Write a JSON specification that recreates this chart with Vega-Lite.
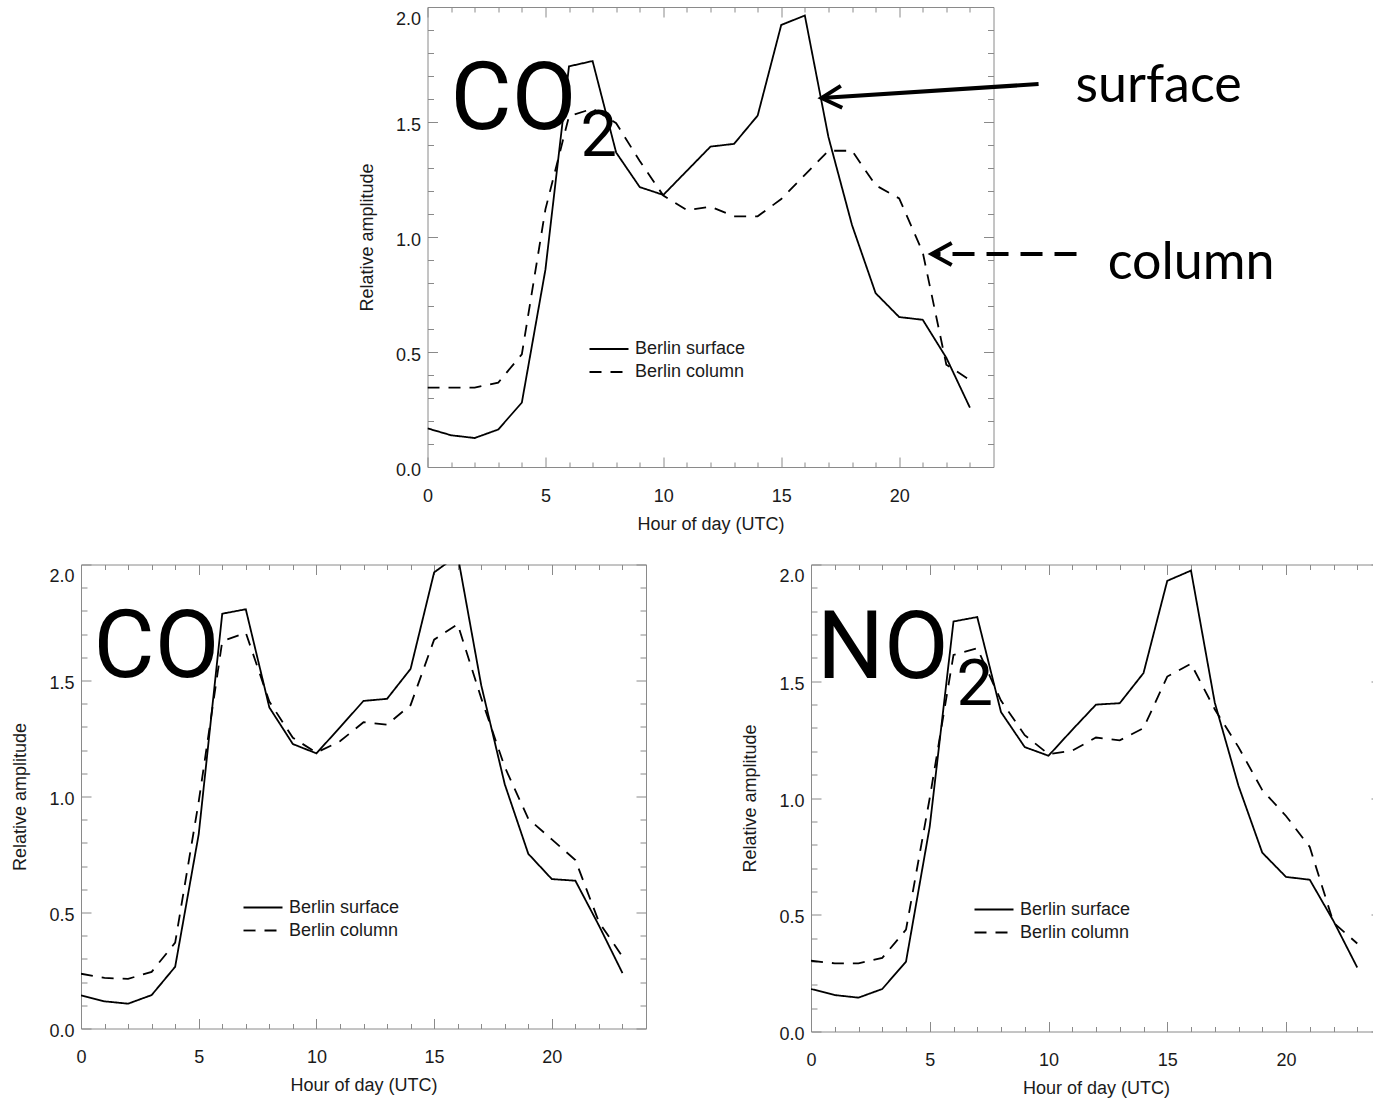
{
  "$schema": "https://vega.github.io/schema/vega-lite/v6.json",
  "background": "white",
  "padding": {"left": 11, "top": 6, "right": 0, "bottom": 0},
  "config": {
    "view": {"stroke": "#8a8a8a", "strokeWidth": 1},
    "axis": {"domain": false, "ticks": false, "grid": true, "gridColor": "#8a8a8a", "gridOpacity": 1, "gridWidth": 1,
      "labelFont": "Liberation Sans", "labelFontSize": 18, "labelColor": "#1a1a1a", "labelOverlap": false, "labelFlush": false,
      "titleFont": "Liberation Sans", "titleFontSize": 18, "titleFontWeight": "normal", "titleColor": "#1a1a1a"},
    "legend": {"labelFont": "Liberation Sans", "labelFontSize": 18, "labelColor": "#1a1a1a"}
  },
  "datasets": {
    "lines": [
      {"gas":"CO2","series":"Berlin surface","hour":0,"value":0.168},{"gas":"CO2","series":"Berlin surface","hour":1,"value":0.138},{"gas":"CO2","series":"Berlin surface","hour":2,"value":0.126},{"gas":"CO2","series":"Berlin surface","hour":3,"value":0.163},{"gas":"CO2","series":"Berlin surface","hour":4,"value":0.28},{"gas":"CO2","series":"Berlin surface","hour":5,"value":0.858},{"gas":"CO2","series":"Berlin surface","hour":6,"value":1.742},{"gas":"CO2","series":"Berlin surface","hour":7,"value":1.765},{"gas":"CO2","series":"Berlin surface","hour":8,"value":1.367},{"gas":"CO2","series":"Berlin surface","hour":9,"value":1.217},{"gas":"CO2","series":"Berlin surface","hour":10,"value":1.183},{"gas":"CO2","series":"Berlin surface","hour":11,"value":1.288},{"gas":"CO2","series":"Berlin surface","hour":12,"value":1.393},{"gas":"CO2","series":"Berlin surface","hour":13,"value":1.405},{"gas":"CO2","series":"Berlin surface","hour":14,"value":1.528},{"gas":"CO2","series":"Berlin surface","hour":15,"value":1.922},{"gas":"CO2","series":"Berlin surface","hour":16,"value":1.963},{"gas":"CO2","series":"Berlin surface","hour":17,"value":1.435},{"gas":"CO2","series":"Berlin surface","hour":18,"value":1.052},{"gas":"CO2","series":"Berlin surface","hour":19,"value":0.756},{"gas":"CO2","series":"Berlin surface","hour":20,"value":0.652},{"gas":"CO2","series":"Berlin surface","hour":21,"value":0.64},{"gas":"CO2","series":"Berlin surface","hour":22,"value":0.475},{"gas":"CO2","series":"Berlin surface","hour":23,"value":0.258},
      {"gas":"CO2","series":"Berlin column","hour":0,"value":0.345},{"gas":"CO2","series":"Berlin column","hour":1,"value":0.345},{"gas":"CO2","series":"Berlin column","hour":2,"value":0.345},{"gas":"CO2","series":"Berlin column","hour":3,"value":0.367},{"gas":"CO2","series":"Berlin column","hour":4,"value":0.49},{"gas":"CO2","series":"Berlin column","hour":5,"value":1.12},{"gas":"CO2","series":"Berlin column","hour":6,"value":1.525},{"gas":"CO2","series":"Berlin column","hour":7,"value":1.558},{"gas":"CO2","series":"Berlin column","hour":8,"value":1.495},{"gas":"CO2","series":"Berlin column","hour":9,"value":1.33},{"gas":"CO2","series":"Berlin column","hour":10,"value":1.18},{"gas":"CO2","series":"Berlin column","hour":11,"value":1.117},{"gas":"CO2","series":"Berlin column","hour":12,"value":1.132},{"gas":"CO2","series":"Berlin column","hour":13,"value":1.09},{"gas":"CO2","series":"Berlin column","hour":14,"value":1.09},{"gas":"CO2","series":"Berlin column","hour":15,"value":1.165},{"gas":"CO2","series":"Berlin column","hour":16,"value":1.27},{"gas":"CO2","series":"Berlin column","hour":17,"value":1.375},{"gas":"CO2","series":"Berlin column","hour":18,"value":1.375},{"gas":"CO2","series":"Berlin column","hour":19,"value":1.225},{"gas":"CO2","series":"Berlin column","hour":20,"value":1.168},{"gas":"CO2","series":"Berlin column","hour":21,"value":0.933},{"gas":"CO2","series":"Berlin column","hour":22,"value":0.445},{"gas":"CO2","series":"Berlin column","hour":23,"value":0.378},
      {"gas":"CO","series":"Berlin surface","hour":0,"value":0.143},{"gas":"CO","series":"Berlin surface","hour":1,"value":0.117},{"gas":"CO","series":"Berlin surface","hour":2,"value":0.107},{"gas":"CO","series":"Berlin surface","hour":3,"value":0.144},{"gas":"CO","series":"Berlin surface","hour":4,"value":0.266},{"gas":"CO","series":"Berlin surface","hour":5,"value":0.837},{"gas":"CO","series":"Berlin surface","hour":6,"value":1.788},{"gas":"CO","series":"Berlin surface","hour":7,"value":1.807},{"gas":"CO","series":"Berlin surface","hour":8,"value":1.384},{"gas":"CO","series":"Berlin surface","hour":9,"value":1.226},{"gas":"CO","series":"Berlin surface","hour":10,"value":1.186},{"gas":"CO","series":"Berlin surface","hour":11,"value":1.298},{"gas":"CO","series":"Berlin surface","hour":12,"value":1.412},{"gas":"CO","series":"Berlin surface","hour":13,"value":1.421},{"gas":"CO","series":"Berlin surface","hour":14,"value":1.55},{"gas":"CO","series":"Berlin surface","hour":15,"value":1.966},{"gas":"CO","series":"Berlin surface","hour":16,"value":2.04},{"gas":"CO","series":"Berlin surface","hour":17,"value":1.48},{"gas":"CO","series":"Berlin surface","hour":18,"value":1.053},{"gas":"CO","series":"Berlin surface","hour":19,"value":0.753},{"gas":"CO","series":"Berlin surface","hour":20,"value":0.644},{"gas":"CO","series":"Berlin surface","hour":21,"value":0.637},{"gas":"CO","series":"Berlin surface","hour":22,"value":0.444},{"gas":"CO","series":"Berlin surface","hour":23,"value":0.239},
      {"gas":"CO","series":"Berlin column","hour":0,"value":0.236},{"gas":"CO","series":"Berlin column","hour":1,"value":0.218},{"gas":"CO","series":"Berlin column","hour":2,"value":0.214},{"gas":"CO","series":"Berlin column","hour":3,"value":0.244},{"gas":"CO","series":"Berlin column","hour":4,"value":0.37},{"gas":"CO","series":"Berlin column","hour":5,"value":0.978},{"gas":"CO","series":"Berlin column","hour":6,"value":1.669},{"gas":"CO","series":"Berlin column","hour":7,"value":1.706},{"gas":"CO","series":"Berlin column","hour":8,"value":1.409},{"gas":"CO","series":"Berlin column","hour":9,"value":1.253},{"gas":"CO","series":"Berlin column","hour":10,"value":1.189},{"gas":"CO","series":"Berlin column","hour":11,"value":1.238},{"gas":"CO","series":"Berlin column","hour":12,"value":1.32},{"gas":"CO","series":"Berlin column","hour":13,"value":1.31},{"gas":"CO","series":"Berlin column","hour":14,"value":1.394},{"gas":"CO","series":"Berlin column","hour":15,"value":1.676},{"gas":"CO","series":"Berlin column","hour":16,"value":1.743},{"gas":"CO","series":"Berlin column","hour":17,"value":1.424},{"gas":"CO","series":"Berlin column","hour":18,"value":1.127},{"gas":"CO","series":"Berlin column","hour":19,"value":0.904},{"gas":"CO","series":"Berlin column","hour":20,"value":0.815},{"gas":"CO","series":"Berlin column","hour":21,"value":0.726},{"gas":"CO","series":"Berlin column","hour":22,"value":0.459},{"gas":"CO","series":"Berlin column","hour":23,"value":0.31},
      {"gas":"NO2","series":"Berlin surface","hour":0,"value":0.182},{"gas":"NO2","series":"Berlin surface","hour":1,"value":0.156},{"gas":"NO2","series":"Berlin surface","hour":2,"value":0.145},{"gas":"NO2","series":"Berlin surface","hour":3,"value":0.182},{"gas":"NO2","series":"Berlin surface","hour":4,"value":0.299},{"gas":"NO2","series":"Berlin surface","hour":5,"value":0.878},{"gas":"NO2","series":"Berlin surface","hour":6,"value":1.756},{"gas":"NO2","series":"Berlin surface","hour":7,"value":1.775},{"gas":"NO2","series":"Berlin surface","hour":8,"value":1.368},{"gas":"NO2","series":"Berlin surface","hour":9,"value":1.218},{"gas":"NO2","series":"Berlin surface","hour":10,"value":1.181},{"gas":"NO2","series":"Berlin surface","hour":11,"value":1.292},{"gas":"NO2","series":"Berlin surface","hour":12,"value":1.4},{"gas":"NO2","series":"Berlin surface","hour":13,"value":1.406},{"gas":"NO2","series":"Berlin surface","hour":14,"value":1.535},{"gas":"NO2","series":"Berlin surface","hour":15,"value":1.93},{"gas":"NO2","series":"Berlin surface","hour":16,"value":1.974},{"gas":"NO2","series":"Berlin surface","hour":17,"value":1.409},{"gas":"NO2","series":"Berlin surface","hour":18,"value":1.052},{"gas":"NO2","series":"Berlin surface","hour":19,"value":0.766},{"gas":"NO2","series":"Berlin surface","hour":20,"value":0.662},{"gas":"NO2","series":"Berlin surface","hour":21,"value":0.65},{"gas":"NO2","series":"Berlin surface","hour":22,"value":0.473},{"gas":"NO2","series":"Berlin surface","hour":23,"value":0.274},
      {"gas":"NO2","series":"Berlin column","hour":0,"value":0.303},{"gas":"NO2","series":"Berlin column","hour":1,"value":0.292},{"gas":"NO2","series":"Berlin column","hour":2,"value":0.292},{"gas":"NO2","series":"Berlin column","hour":3,"value":0.315},{"gas":"NO2","series":"Berlin column","hour":4,"value":0.436},{"gas":"NO2","series":"Berlin column","hour":5,"value":1.0},{"gas":"NO2","series":"Berlin column","hour":6,"value":1.613},{"gas":"NO2","series":"Berlin column","hour":7,"value":1.641},{"gas":"NO2","series":"Berlin column","hour":8,"value":1.417},{"gas":"NO2","series":"Berlin column","hour":9,"value":1.269},{"gas":"NO2","series":"Berlin column","hour":10,"value":1.188},{"gas":"NO2","series":"Berlin column","hour":11,"value":1.203},{"gas":"NO2","series":"Berlin column","hour":12,"value":1.259},{"gas":"NO2","series":"Berlin column","hour":13,"value":1.247},{"gas":"NO2","series":"Berlin column","hour":14,"value":1.299},{"gas":"NO2","series":"Berlin column","hour":15,"value":1.52},{"gas":"NO2","series":"Berlin column","hour":16,"value":1.575},{"gas":"NO2","series":"Berlin column","hour":17,"value":1.38},{"gas":"NO2","series":"Berlin column","hour":18,"value":1.218},{"gas":"NO2","series":"Berlin column","hour":19,"value":1.034},{"gas":"NO2","series":"Berlin column","hour":20,"value":0.923},{"gas":"NO2","series":"Berlin column","hour":21,"value":0.79},{"gas":"NO2","series":"Berlin column","hour":22,"value":0.466},{"gas":"NO2","series":"Berlin column","hour":23,"value":0.377}
    ],
    "notes": [
      {"gas":"CO2","kind":"big","text":"CO","hour":0.975,"value":1.47},
      {"gas":"CO2","kind":"sub","text":"2","hour":6.49,"value":1.352},
      {"gas":"CO2","kind":"callout","text":"surface","hour":27.48,"value":1.587},
      {"gas":"CO2","kind":"callout","text":"column","hour":28.84,"value":0.817},
      {"gas":"CO","kind":"big","text":"CO","hour":0.53,"value":1.513},
      {"gas":"NO2","kind":"big","text":"NO","hour":0.25,"value":1.512},
      {"gas":"NO2","kind":"sub","text":"2","hour":6.13,"value":1.4}
    ],
    "arrows": [
      {"style":"solid","hour":25.91,"value":1.665,"hour2":16.71,"value2":1.604},
      {"style":"dashed","hour":27.52,"value":0.926,"hour2":21.38,"value2":0.926}
    ]
  },
  "resolve": {"scale": {"strokeDash": "independent"}, "legend": {"strokeDash": "independent"}},
  "align": "none",
  "spacing": 29.5,
  "vconcat": [
    {
      "align": "none",
      "spacing": 47.5,
      "resolve": {"scale": {"strokeDash": "independent"}, "legend": {"strokeDash": "independent"}},
      "hconcat": [
        {"width": 229, "height": 10, "data": {"values": []}, "mark": {"type": "text"}, "view": {"stroke": null}},
        {
          "width": 566, "height": 460,
          "resolve": {"axis": {"x": "independent", "y": "independent"}},
          "layer": [
            {
              "data": {"name": "lines"},
              "transform": [{"filter": "datum.gas === 'CO2'"}],
              "mark": {"type": "line", "color": "black", "strokeWidth": 1.8, "clip": true},
              "encoding": {
                "x": {"field": "hour", "type": "quantitative", "scale": {"domain": [0, 24], "nice": false, "zero": false},
                  "axis": {"orient": "bottom", "title": "Hour of day (UTC)", "values": [0, 5, 10, 15, 20], "format": "d", "grid": true,
                    "labelPadding": 20, "titlePadding": 10, "gridDash": [10, 440]}},
                "y": {"field": "value", "type": "quantitative", "scale": {"domain": [0, 2], "nice": false},
                  "axis": {"orient": "left", "title": "Relative amplitude", "values": [0, 0.5, 1, 1.5, 2], "format": ".1f", "grid": true,
                    "labelPadding": 7, "titlePadding": 19, "labelOffset": 3,
                    "labelBaseline": {"condition": {"test": "datum.value > 1.99", "value": "top"}, "value": "middle"},
                    "gridDash": [10, 546]}},
                "strokeDash": {"field": "series", "type": "nominal",
                  "scale": {"domain": ["Berlin surface", "Berlin column"], "range": [[1, 0], [12, 9]]},
                  "legend": {"orient": "none", "legendX": 172.5, "legendY": 333, "title": null, "padding": 0,
                    "symbolType": "M -3 0 L 3 0", "symbolSize": 169, "symbolStrokeWidth": 1.8, "symbolStrokeColor": "black",
                    "labelOffset": 17, "rowPadding": 5}}
              }
            },
            {
              "data": {"name": "notes"},
              "transform": [{"filter": "datum.gas === 'CO2' && datum.kind === 'big'"}],
              "mark": {"type": "text", "font": "Roboto", "fontSize": 94, "align": "left", "baseline": "alphabetic", "color": "black"},
              "encoding": {
                "x": {"field": "hour", "type": "quantitative",
                  "axis": {"orient": "top", "title": null, "labels": false, "grid": true, "values": [1,2,3,4,6,7,8,9,11,12,13,14,16,17,18,19,21,22,23], "gridDash": [5, 450]}},
                "y": {"field": "value", "type": "quantitative",
                  "axis": {"orient": "right", "title": null, "labels": false, "grid": true, "values": [0.1,0.2,0.3,0.4,0.6,0.7,0.8,0.9,1.1,1.2,1.3,1.4,1.6,1.7,1.8,1.9], "gridDash": [6, 554]}},
                "text": {"field": "text"}}
            },
            {
              "data": {"name": "notes"},
              "transform": [{"filter": "datum.gas === 'CO2' && datum.kind === 'sub'"}],
              "mark": {"type": "text", "font": "Roboto", "fontSize": 65, "align": "left", "baseline": "alphabetic", "color": "black"},
              "encoding": {"x": {"field": "hour", "type": "quantitative", "axis": null}, "y": {"field": "value", "type": "quantitative", "axis": null}, "text": {"field": "text"}}
            },
            {
              "data": {"name": "notes"},
              "transform": [{"filter": "datum.gas === 'CO2' && datum.kind === 'callout'"}],
              "mark": {"type": "text", "font": "Lato", "fontSize": 52, "align": "left", "baseline": "alphabetic", "color": "black"},
              "encoding": {"x": {"field": "hour", "type": "quantitative", "axis": null}, "y": {"field": "value", "type": "quantitative", "axis": null}, "text": {"field": "text"}}
            },
            {
              "data": {"name": "arrows"},
              "transform": [{"filter": "datum.style === 'solid'"}],
              "mark": {"type": "rule", "strokeWidth": 4, "color": "black"},
              "encoding": {"x": {"field": "hour", "type": "quantitative", "axis": null}, "y": {"field": "value", "type": "quantitative", "axis": null}, "x2": {"field": "hour2"}, "y2": {"field": "value2"}}
            },
            {
              "data": {"name": "arrows"},
              "transform": [{"filter": "datum.style === 'dashed'"}],
              "mark": {"type": "rule", "strokeWidth": 4, "color": "black", "strokeDash": [22, 12]},
              "encoding": {"x": {"field": "hour", "type": "quantitative", "axis": null}, "y": {"field": "value", "type": "quantitative", "axis": null}, "x2": {"field": "hour2"}, "y2": {"field": "value2"}}
            },
            {
              "data": {"name": "arrows"},
              "transform": [{"filter": "datum.style === 'solid'"}],
              "mark": {"type": "point", "shape": "M 2 -1.1 L 0 0 L 2 1.1", "size": 400, "filled": false, "strokeWidth": 4, "color": "black", "opacity": 1, "angle": -3.7},
              "encoding": {"x": {"field": "hour2", "type": "quantitative", "axis": null}, "y": {"field": "value2", "type": "quantitative", "axis": null}}
            },
            {
              "data": {"name": "arrows"},
              "transform": [{"filter": "datum.style === 'dashed'"}],
              "mark": {"type": "point", "shape": "M 2 -1.1 L 0 0 L 2 1.1", "size": 400, "filled": false, "strokeWidth": 4, "color": "black", "opacity": 1},
              "encoding": {"x": {"field": "hour2", "type": "quantitative", "axis": null}, "y": {"field": "value2", "type": "quantitative", "axis": null}}
            }
          ]
        }
      ]
    },
    {
      "align": "none",
      "spacing": 94,
      "resolve": {"scale": {"strokeDash": "independent"}, "legend": {"strokeDash": "independent"}},
      "hconcat": [
        {
          "width": 565, "height": 464,
          "resolve": {"axis": {"x": "independent", "y": "independent"}},
          "layer": [
            {
              "data": {"name": "lines"},
              "transform": [{"filter": "datum.gas === 'CO'"}],
              "mark": {"type": "line", "color": "black", "strokeWidth": 1.8, "clip": true},
              "encoding": {
                "x": {"field": "hour", "type": "quantitative", "scale": {"domain": [0, 24], "nice": false, "zero": false},
                  "axis": {"orient": "bottom", "title": "Hour of day (UTC)", "values": [0, 5, 10, 15, 20], "format": "d", "grid": true,
                    "labelPadding": 20, "titlePadding": 10, "gridDash": [10, 444]}},
                "y": {"field": "value", "type": "quantitative", "scale": {"domain": [0, 2], "nice": false},
                  "axis": {"orient": "left", "title": "Relative amplitude", "values": [0, 0.5, 1, 1.5, 2], "format": ".1f", "grid": true,
                    "labelPadding": 7, "titlePadding": 19, "labelOffset": 3,
                    "labelBaseline": {"condition": {"test": "datum.value > 1.99", "value": "top"}, "value": "middle"},
                    "gridDash": [10, 545]}},
                "strokeDash": {"field": "series", "type": "nominal",
                  "scale": {"domain": ["Berlin surface", "Berlin column"], "range": [[1, 0], [12, 9]]},
                  "legend": {"orient": "none", "legendX": 173, "legendY": 334, "title": null, "padding": 0,
                    "symbolType": "M -3 0 L 3 0", "symbolSize": 169, "symbolStrokeWidth": 1.8, "symbolStrokeColor": "black",
                    "labelOffset": 17, "rowPadding": 5}}
              }
            },
            {
              "data": {"name": "notes"},
              "transform": [{"filter": "datum.gas === 'CO' && datum.kind === 'big'"}],
              "mark": {"type": "text", "font": "Roboto", "fontSize": 94, "align": "left", "baseline": "alphabetic", "color": "black"},
              "encoding": {
                "x": {"field": "hour", "type": "quantitative",
                  "axis": {"orient": "top", "title": null, "labels": false, "grid": true, "values": [1,2,3,4,6,7,8,9,11,12,13,14,16,17,18,19,21,22,23], "gridDash": [5, 454]}},
                "y": {"field": "value", "type": "quantitative",
                  "axis": {"orient": "right", "title": null, "labels": false, "grid": true, "values": [0.1,0.2,0.3,0.4,0.6,0.7,0.8,0.9,1.1,1.2,1.3,1.4,1.6,1.7,1.8,1.9], "gridDash": [6, 553]}},
                "text": {"field": "text"}}
            }
          ]
        },
        {
          "width": 570, "height": 467,
          "resolve": {"axis": {"x": "independent", "y": "independent"}},
          "layer": [
            {
              "data": {"name": "lines"},
              "transform": [{"filter": "datum.gas === 'NO2'"}],
              "mark": {"type": "line", "color": "black", "strokeWidth": 1.8, "clip": true},
              "encoding": {
                "x": {"field": "hour", "type": "quantitative", "scale": {"domain": [0, 24], "nice": false, "zero": false},
                  "axis": {"orient": "bottom", "title": "Hour of day (UTC)", "values": [0, 5, 10, 15, 20], "format": "d", "grid": true,
                    "labelPadding": 20, "titlePadding": 10, "gridDash": [10, 447]}},
                "y": {"field": "value", "type": "quantitative", "scale": {"domain": [0, 2], "nice": false},
                  "axis": {"orient": "left", "title": "Relative amplitude", "values": [0, 0.5, 1, 1.5, 2], "format": ".1f", "grid": true,
                    "labelPadding": 7, "titlePadding": 19, "labelOffset": 3,
                    "labelBaseline": {"condition": {"test": "datum.value > 1.99", "value": "top"}, "value": "middle"},
                    "gridDash": [10, 550]}},
                "strokeDash": {"field": "series", "type": "nominal",
                  "scale": {"domain": ["Berlin surface", "Berlin column"], "range": [[1, 0], [12, 9]]},
                  "legend": {"orient": "none", "legendX": 174, "legendY": 336, "title": null, "padding": 0,
                    "symbolType": "M -3 0 L 3 0", "symbolSize": 169, "symbolStrokeWidth": 1.8, "symbolStrokeColor": "black",
                    "labelOffset": 17, "rowPadding": 5}}
              }
            },
            {
              "data": {"name": "notes"},
              "transform": [{"filter": "datum.gas === 'NO2' && datum.kind === 'big'"}],
              "mark": {"type": "text", "font": "Roboto", "fontSize": 94, "align": "left", "baseline": "alphabetic", "color": "black"},
              "encoding": {
                "x": {"field": "hour", "type": "quantitative",
                  "axis": {"orient": "top", "title": null, "labels": false, "grid": true, "values": [1,2,3,4,6,7,8,9,11,12,13,14,16,17,18,19,21,22,23], "gridDash": [5, 457]}},
                "y": {"field": "value", "type": "quantitative",
                  "axis": {"orient": "right", "title": null, "labels": false, "grid": true, "values": [0.1,0.2,0.3,0.4,0.6,0.7,0.8,0.9,1.1,1.2,1.3,1.4,1.6,1.7,1.8,1.9], "gridDash": [6, 558]}},
                "text": {"field": "text"}}
            },
            {
              "data": {"name": "notes"},
              "transform": [{"filter": "datum.gas === 'NO2' && datum.kind === 'sub'"}],
              "mark": {"type": "text", "font": "Roboto", "fontSize": 65, "align": "left", "baseline": "alphabetic", "color": "black"},
              "encoding": {"x": {"field": "hour", "type": "quantitative", "axis": null}, "y": {"field": "value", "type": "quantitative", "axis": null}, "text": {"field": "text"}}
            }
          ]
        }
      ]
    }
  ]
}
